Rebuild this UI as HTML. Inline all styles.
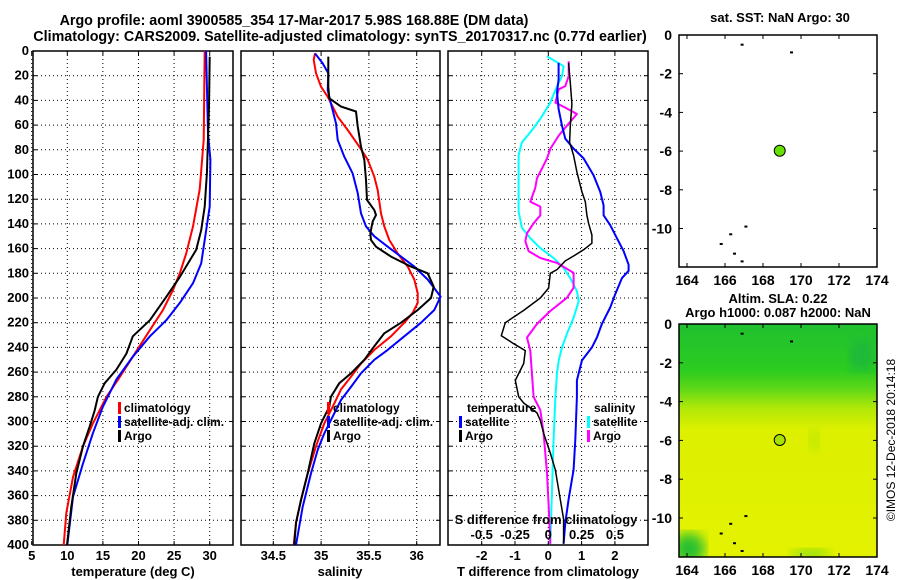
<!DOCTYPE html>
<html><head><meta charset="utf-8">
<style>
html,body{margin:0;padding:0;background:#fff;}
svg{display:block;font-family:"Liberation Sans",Arial,sans-serif;font-weight:bold;}
text{font-size:13px;fill:#000;}
</style></head>
<body>
<svg id="fig" width="900" height="580" viewBox="0 0 900 580" xmlns="http://www.w3.org/2000/svg">
<defs>
<linearGradient id="slaGrad" x1="0" y1="0" x2="0" y2="1">
<stop offset="0" stop-color="#20c030"/>
<stop offset="0.2" stop-color="#2ccc20"/>
<stop offset="0.28" stop-color="#60d818"/>
<stop offset="0.36" stop-color="#b0e808"/>
<stop offset="0.45" stop-color="#dcf000"/>
<stop offset="1" stop-color="#e4f200"/>
</linearGradient>
<filter id="blur6"><feGaussianBlur stdDeviation="6"/></filter>
<clipPath id="mapClip"><rect x="679" y="324" width="198" height="233"/></clipPath>
</defs>
<text x="294" y="25" text-anchor="middle" style="font-size:14.3px">Argo profile: aoml 3900585_354 17-Mar-2017 5.98S 168.88E (DM data)</text>
<text x="340" y="41" text-anchor="middle" style="font-size:14.3px">Climatology: CARS2009. Satellite-adjusted climatology: synTS_20170317.nc (0.77d earlier)</text>
<g id="plots"></g>
<text transform="translate(895,440) rotate(-90)" text-anchor="middle" style="font-size:12px;font-weight:normal">©IMOS 12-Dec-2018 20:14:18</text>
</svg>
<script>
// ---- data ----
const depthTicks=[0,20,40,60,80,100,120,140,160,180,200,220,240,260,280,300,320,340,360,380,400];
const tempTicks=[5,10,15,20,25,30];
const salTicks=[34.5,35,35.5,36];
const tdiffTicks=[-2,-1,0,1,2];
const sdiffTicks=[-0.5,-0.25,0,0.25,0.5];
const sdiffTickLabels=["-0.5","-0.25","0","0.25","0.5"];
const lonTicks=[164,166,168,170,172,174];
const latTicks=[0,-2,-4,-6,-8,-10];
const argoLon=168.88, argoLat=-5.98;

const tClimDepth=[0,72,112,142,164,180,193.5,210,226,247.5,263.7,280,301.5,320,345,374,400];
const tClimVal=[29.3,29.16,28.6,27.65,26.7,25.8,24.85,23.4,21.6,19.2,17.4,15.5,13.6,12.2,10.8,9.86,9.5];
const tArgoDepth=[4.6,45,99,126,145,161,172,183,199,218,231,245,258,269,280,291,304,320,342,369,400];
const tArgoVal=[30.0,29.9,29.6,29.3,28.8,28.1,26.95,25.8,23.9,21.6,19.2,18.3,16.9,15.25,14.3,13.85,13.15,12.2,11.26,10.56,9.96];
const tSatDepth=[0,66.7,88,126,153,172,188,204,218,231,247.5,266,288,309.5,334,361,400];
const tSatVal=[29.5,29.76,30.1,30.0,29.3,28.8,27.65,25.8,23.9,21.6,19.2,16.9,15.0,13.6,12.2,10.8,10.0];

const sClimDepth=[1.9,7.3,18,28.9,37,53.2,64,77.5,88,101.8,112.6,131.5,142,153,164,174.6,185,196,204,212,220,231,242,253,263.7,274,288,301.5,320,342,363.6,382,400];
const sClimVal=[34.936,34.923,34.947,34.999,35.069,35.174,35.278,35.40,35.487,35.556,35.592,35.627,35.661,35.713,35.801,35.906,35.975,36.01,36.01,35.958,35.870,35.731,35.556,35.417,35.313,35.208,35.121,35.033,34.947,34.860,34.790,34.737,34.713];
const sArgoDepth=[4.5,28.9,38.3,45,49,61,77.5,88,104.4,120.6,128.8,132.8,138,147.6,153,158.5,166.5,174.6,180,190.8,200,209.7,220,228.6,239,250,261,269,280,288,301.5,317.7,342,363.6,382,400];
const sArgoVal=[35.075,35.075,35.086,35.208,35.365,35.383,35.417,35.452,35.470,35.480,35.556,35.574,35.540,35.515,35.522,35.574,35.731,35.940,36.115,36.178,36.150,36.01,35.836,35.661,35.556,35.452,35.313,35.190,35.103,35.086,34.999,34.929,34.860,34.790,34.737,34.72];
const sSatDepth=[1.9,10,18,31.6,42.4,58.6,72,85.6,99,115,131.5,142,150,158.5,166.5,174.6,185,198.9,209.7,220,231,242,250,261,272,282.6,293.4,309.6,323,342,369,400];
const sSatVal=[34.936,35.017,35.075,35.069,35.103,35.156,35.174,35.243,35.330,35.383,35.417,35.470,35.556,35.697,35.836,35.975,36.115,36.25,36.184,36.045,35.870,35.697,35.556,35.417,35.313,35.208,35.138,35.033,34.964,34.894,34.808,34.737];

const dTArgoDepth=[9.6,25.7,43,60.5,73.9,84.6,98,114,122,133,139.5,149,155.6,161,166,170,177,180,192,200,210,220,230.5,237,242.6,253,266.7,280,285,293,299,309.5,325.5,339,355,379,399];
const dTArgoVal=[0.61,0.66,0.71,0.66,0.64,0.76,0.86,1.01,1.11,1.16,1.21,1.31,1.31,1.06,0.76,0.51,0.26,0.06,0.01,-0.24,-0.74,-1.29,-1.41,-1.04,-0.69,-0.74,-0.99,-0.89,-0.74,-0.34,-0.24,-0.14,0.06,0.21,0.31,0.46,0.46];
const dTSatDepth=[9.6,23,33.7,47,60.5,71,79,87,100.7,114,125,133,141,151.6,162,173,178,184,197,207.7,221,232,240,250.6,266.7,280,315,339,363,382,399];
const dTSatVal=[0.31,0.31,0.26,0.31,0.41,0.51,0.76,1.06,1.36,1.56,1.66,1.66,1.86,2.06,2.26,2.41,2.41,2.21,2.01,1.86,1.61,1.46,1.31,1.01,0.86,0.86,0.81,0.76,0.61,0.51,0.46];
const dSArgoDepth=[8.3,20.3,28.4,31,41.8,45.8,51,60.5,68.5,79.3,87,95.3,103,111,122,126,133,139.5,147.5,154,162,167.6,171.6,179.7,191.7,199.8,210.5,221,232,242.6,261,280,290.8,309.5,341.8,368.6,399];
const dSArgoVal=[0.153,0.153,0.128,0.078,0.053,0.128,0.215,0.14,0.078,0.015,-0.01,-0.048,-0.085,-0.098,-0.135,-0.06,-0.06,-0.11,-0.16,-0.173,-0.148,-0.06,0.065,0.19,0.19,0.14,0.015,-0.085,-0.16,-0.135,-0.123,-0.11,-0.06,-0.035,-0.01,0.003,0.015];
const dSSatDepth=[4.3,12.3,20.3,28.4,41.8,55,65.9,73.9,84.6,100.7,114,130,143,151.6,159.6,167.6,175.6,184,194.5,202.6,216,229,240,250.6,261,280,315,355,399];
const dSSatVal=[-0.01,0.115,0.103,0.065,0.015,-0.06,-0.135,-0.198,-0.223,-0.223,-0.223,-0.223,-0.198,-0.135,-0.06,0.04,0.115,0.165,0.215,0.228,0.19,0.14,0.103,0.078,0.065,0.053,0.04,0.028,0.015];

// ---- axes ----
const PT=51, PB=545;
function yD(d){return PT+d*(PB-PT)/400;}
const P1={l:33,r:233}, P2={l:241,r:440}, P3={l:448,r:648};
function xT(t){return 67.3+(t-10)*7.12;}
function xS(s){return 273.3+(s-34.5)*95.6;}
function xDT(t){return 548.3+t*33.3;}
function xDS(s){return 548.3+s*4*33.3;}
const MAP={l:679,r:877};
function xLon(lon){return 687+(lon-164)*19;}
function yLatTop(lat){return 35-lat*19.35;}
function yLatBot(lat){return 324-lat*19.4;}

const NS="http://www.w3.org/2000/svg";
const root=document.getElementById('plots');
function el(tag,attrs,parent){const e=document.createElementNS(NS,tag);for(const k in attrs)e.setAttribute(k,attrs[k]);(parent||root).appendChild(e);return e;}
function txt(x,y,s,anchor,size,parent){const t=el('text',{x:x,y:y,'text-anchor':anchor||'middle'},parent);if(size)t.style.fontSize=size+'px';t.textContent=s;return t;}

function panel(P,name,xfun,ticks,tickLabels,showYLabels){
  const g=el('g',{});
  
  
  depthTicks.forEach(d=>{
    const y=yD(d);
    if(d>0&&d<400){const gl=el('line',{x1:P.l,x2:P.r,y1:y,y2:y,stroke:'#000','stroke-width':1,'stroke-dasharray':'1,3'},g);
      
      }
    el('line',{x1:P.l,x2:P.l+4,y1:y,y2:y,stroke:'#000'},g);
    el('line',{x1:P.r-4,x2:P.r,y1:y,y2:y,stroke:'#000'},g);
    if(showYLabels){const t=txt(29,y+4,String(d),'end',13,g);
      
      }
  });
  ticks.forEach((v,i)=>{
    const x=xfun(v);
    const gl=el('line',{x1:x,x2:x,y1:PT,y2:PB,stroke:'#000','stroke-width':1,'stroke-dasharray':'1,3'},g);
    
    
    el('line',{x1:x,x2:x,y1:PB-4,y2:PB,stroke:'#000'},g);
    el('line',{x1:x,x2:x,y1:PT,y2:PT+4,stroke:'#000'},g);
    const t=txt(x,560,tickLabels[i],'middle',13,g);
    
    
  });
  const fr=el('rect',{x:P.l,y:PT,width:P.r-P.l,height:PB-PT,fill:'none',stroke:'#000','stroke-width':1.5},g);
  
  
  return g;
}
function series(g,depths,vals,xfun,color,w,name){
  const pts=depths.map((d,i)=>xfun(vals[i]).toFixed(1)+','+yD(d).toFixed(1)).join(' ');
  const p=el('polyline',{points:pts,fill:'none',stroke:color,'stroke-width':w,'stroke-linejoin':'round'},g);
  
  
}
function legendItem(g,x,y,color,label,name){
  const b=el('rect',{x:x,y:y-10,width:3,height:12,fill:color},g);
  
  
  const t=txt(x+6,y,label,'start',12,g);
  
  
}

// Panel 1 temperature
const g1=panel(P1,'temperature-panel',xT,tempTicks,tempTicks.map(String),true);
series(g1,tClimDepth,tClimVal,xT,'#ff0000',2,'temp-climatology-line');
series(g1,tSatDepth,tSatVal,xT,'#0000ff',2,'temp-satellite-line');
series(g1,tArgoDepth,tArgoVal,xT,'#000000',2,'temp-argo-line');
legendItem(g1,118,412,'#ff0000','climatology','legend-climatology');
legendItem(g1,118,426,'#0000ff','satellite-adj. clim.','legend-satellite');
legendItem(g1,118,440,'#000000','Argo','legend-argo');
let at=txt(133,576,'temperature (deg C)','middle',13);



// Panel 2 salinity
const g2=panel(P2,'salinity-panel',xS,salTicks,salTicks.map(String),false);
series(g2,sClimDepth,sClimVal,xS,'#ff0000',2,'sal-climatology-line');
series(g2,sSatDepth,sSatVal,xS,'#0000ff',2,'sal-satellite-line');
series(g2,sArgoDepth,sArgoVal,xS,'#000000',2,'sal-argo-line');
legendItem(g2,327,412,'#ff0000','climatology','legend-climatology');
legendItem(g2,327,426,'#0000ff','satellite-adj. clim.','legend-satellite');
legendItem(g2,327,440,'#000000','Argo','legend-argo');
at=txt(340,576,'salinity','middle',13);



// Panel 3 differences
const g3=panel(P3,'difference-panel',xDT,tdiffTicks,tdiffTicks.map(String),false);
series(g3,dSSatDepth,dSSatVal,xDS,'#00ffff',2,'sdiff-satellite-line');
series(g3,dSArgoDepth,dSArgoVal,xDS,'#ff00ff',2,'sdiff-argo-line');
series(g3,dTSatDepth,dTSatVal,xDT,'#0000ff',2,'tdiff-satellite-line');
series(g3,dTArgoDepth,dTArgoVal,xDT,'#000000',1.5,'tdiff-argo-line');
let lt=txt(467,412,'temperature','start',12,g3);


legendItem(g3,459,426,'#0000ff','satellite','legend-t-satellite');
legendItem(g3,459,440,'#000000','Argo','legend-t-argo');
lt=txt(594,412,'salinity','start',12,g3);


legendItem(g3,587,426,'#00ffff','satellite','legend-s-satellite');
legendItem(g3,587,440,'#ff00ff','Argo','legend-s-argo');
lt=txt(546,524,'S difference from climatology','middle',13,g3);


sdiffTicks.forEach((v,i)=>{
  const t=txt(xDS(v),539,sdiffTickLabels[i],'middle',13,g3);
  
  
});
at=txt(548,576,'T difference from climatology','middle',13);



// Maps
function mapPanel(name,top,bot,yLat,title1,title2,bg,markerFill){
  const g=el('g',{});
  
  
  if(bg){
    const r=el('rect',{x:MAP.l,y:top,width:MAP.r-MAP.l,height:bot-top,fill:'url(#slaGrad)'},g);
    
    
    const cg=el('g',{'clip-path':'url(#mapClip)'},g);
    el('ellipse',{cx:xLon(164.1),cy:yLat(-11.6),rx:16,ry:16,fill:'#28c030',filter:'url(#blur6)'},cg);
    el('ellipse',{cx:xLon(170.5),cy:yLat(-11.9),rx:20,ry:6,fill:'#8ede10',filter:'url(#blur6)'},cg);
    el('ellipse',{cx:xLon(173.2),cy:yLat(-1.6),rx:12,ry:16,fill:'#1cb83a',filter:'url(#blur6)'},cg);
    el('ellipse',{cx:xLon(170.7),cy:yLat(-6),rx:5,ry:12,fill:'#b8e606',filter:'url(#blur6)'},cg);
  }
  // islands
  [[166.9,-0.5],[169.5,-0.9],[167.1,-9.9],[165.8,-10.8],[166.3,-10.3],[166.5,-11.3],[166.9,-11.7]].forEach(p=>{
    const i=el('rect',{x:xLon(p[0])-1.5,y:yLat(p[1])-1,width:3,height:2,fill:'#000'},g);
    
    
  });
  lonTicks.forEach(v=>{
    const x=xLon(v);
    el('line',{x1:x,x2:x,y1:bot-4,y2:bot,stroke:'#000'},g);
    el('line',{x1:x,x2:x,y1:top,y2:top+4,stroke:'#000'},g);
    const t=txt(x,bot+18,String(v),'middle',14,g);
    
    
  });
  latTicks.forEach(v=>{
    const y=yLat(v);
    el('line',{x1:MAP.l,x2:MAP.l+4,y1:y,y2:y,stroke:'#000'},g);
    el('line',{x1:MAP.r-4,x2:MAP.r,y1:y,y2:y,stroke:'#000'},g);
    const t=txt(672,y+5,String(v),'end',14,g);
    
    
  });
  const fr=el('rect',{x:MAP.l,y:top,width:MAP.r-MAP.l,height:bot-top,fill:'none',stroke:'#000','stroke-width':1.5},g);
  
  
  const m=el('circle',{cx:xLon(argoLon),cy:yLat(argoLat),r:5.5,fill:markerFill,stroke:'#000','stroke-width':1},g);
  
  
  if(title2){
    let t=txt(778,top-21,title1,'middle',13,g);
    
    
    t=txt(778,top-7,title2,'middle',13,g);
    
    
  } else {
    const t=txt(780,top-13,title1,'middle',13,g);
    
    
  }
}
mapPanel('sst-map',35,267,yLatTop,'sat. SST: NaN Argo: 30',null,false,'#66e000');
mapPanel('sla-map',324,557,yLatBot,'Altim. SLA: 0.22','Argo h1000: 0.087 h2000: NaN',true,'#a8e000');
</script>
</body></html>
